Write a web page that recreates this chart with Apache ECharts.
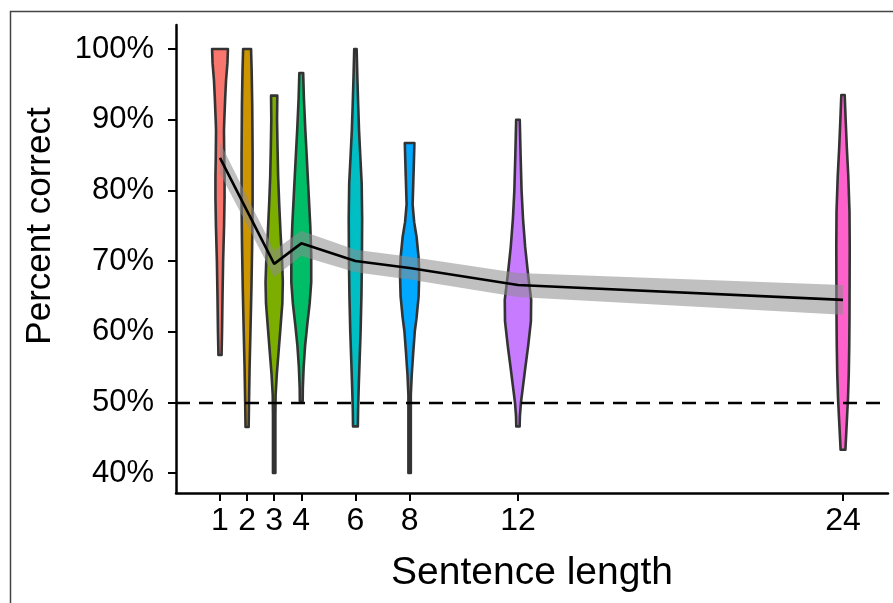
<!DOCTYPE html>
<html>
<head>
<meta charset="utf-8">
<script src="https://cdn.jsdelivr.net/npm/echarts@6/dist/echarts.min.js"></script>
<style>html,body{margin:0;padding:0;background:#fff}#c{width:893px;height:603px}</style>
</head>
<body>
<div id="c"></div>
<script>
// ---- data ----
const lengths = [1, 2, 3, 4, 6, 8, 12, 24];
const xTicks = [1, 2, 3, 4, 6, 8, 12, 24];
const yTicks = [40, 50, 60, 70, 80, 90, 100];
const chanceLevel = 50;
// violin profiles: [percent correct, density (half-width)]
const violinLen1 = [[100,6.6],[98,6.2],[95.5,5],[93,4.3],[90,3.6],[88.5,3.3],[85,3.5],[82,3.8],[79,3.8],[75,3.4],[70,2.6],[65,2.1],[60,1.7],[56.7,1.3]];
const violinLen2 = [[100,3.3],[97,3.8],[92,4.3],[85,4.6],[78,4.6],[72,4.2],[66,3.6],[60,2.8],[55,2.1],[50,1.6],[46.5,1.3]];
const violinLen3 = [[93.4,2.6],[90,2.4],[86,2.8],[82,3.3],[78,4.2],[74,5.3],[70,6.6],[67,7.2],[64,6.8],[60,5],[57,3.6],[54,2.2],[51,1.2],[48,1],[40,1]];
const violinLen4 = [[96.6,1.6],[93,2.2],[88.5,3.4],[84,4.8],[79,6.3],[75,7.5],[71,8.3],[67,8.3],[64,7],[61,5],[58,3.2],[55,2],[52,1.3],[50.2,1.2]];
const violinLen6 = [[100,1],[96,1.6],[92,2.3],[88.5,3],[85,4],[81,5.2],[76,5.6],[70,5.4],[65,5],[60,4.3],[56,3.5],[52,2.7],[49,2.2],[46.6,2]];
const violinLen8 = [[86.7,4],[83,3.4],[78,2.5],[75.5,3.8],[73.4,5.8],[70.5,7.5],[68,8],[65,7.5],[62,5.8],[60,4.3],[57,3],[54,1.8],[51,1],[40,1]];
const violinLen12 = [[90,1.5],[85,2.2],[80,3],[76,4.2],[72,6],[68,8.5],[64.5,11],[61.5,10.8],[58,8.5],[55,6.2],[52,4],[50,2.5],[48,1.6],[46.6,1.4]];
const violinLen24 = [[93.5,1.4],[90,2.2],[86,3.2],[82,4.4],[77,5.4],[72,5.6],[67,5.5],[62,5.4],[58,5.2],[54,4.8],[50.8,4.2],[48,3.4],[46,2.8],[43.3,2]];
// smoothed mean and confidence band
const meanCorrect = [84.6, 77.1, 69.6, 72.5, 70.0, 69.0, 66.6, 64.5];
const ciHigh = [86.8, 79.1, 71.5, 74.3, 71.6, 70.6, 68.3, 66.6];
const ciLow  = [82.4, 75.1, 67.7, 70.7, 68.4, 67.4, 64.9, 62.4];

// ---- styles ----
const violins = [violinLen1, violinLen2, violinLen3, violinLen4, violinLen6, violinLen8, violinLen12, violinLen24];
const colors = ['#F8766D', '#CD9600', '#7CAE00', '#00BE67', '#00BFC4', '#00A9FF', '#C77CFF', '#FF61CC'];
const DENS = 1.2 / 27.09;
const FONT = 'Liberation Sans, Arial, sans-serif';

const chart = echarts.init(document.getElementById('c'), null, {renderer: 'canvas'});
chart.setOption({
  animation: false,
  backgroundColor: '#fff',
  grid: {left: 176, right: 5, top: 25, bottom: 110, containLabel: false},
  xAxis: {
    type: 'value', min: -0.6244, max: 25.661,
    name: 'Sentence length', nameLocation: 'middle', nameGap: 61,
    nameTextStyle: {fontFamily: FONT, fontSize: 39, color: '#000'},
    axisLine: {show: true, onZero: false, lineStyle: {color: '#000', width: 2.5}},
    axisTick: {show: true, length: 8, lineStyle: {color: '#000', width: 2}, customValues: xTicks},
    axisLabel: {fontFamily: FONT, fontSize: 32, color: '#000', margin: 12, customValues: xTicks},
    splitLine: {show: false}
  },
  yAxis: {
    type: 'value', min: 37.17, max: 103.4,
    axisLine: {show: true, onZero: false, lineStyle: {color: '#000', width: 2.5}},
    axisTick: {show: true, length: 8, lineStyle: {color: '#000', width: 2}, customValues: yTicks},
    axisLabel: {fontFamily: FONT, fontSize: 31, color: '#000', margin: 22, customValues: yTicks,
      formatter: v => v + '%'},
    splitLine: {show: false}
  },
  graphic: [
    {type: 'polyline', silent: true, z: 100,
     shape: {points: [[10.5, 603], [10.5, 11.5], [893, 11.5]]},
     style: {stroke: '#444', lineWidth: 1.5, fill: null}},
    {type: 'text', x: 40, y: 226, rotation: Math.PI / 2, z: 100,
     style: {text: 'Percent correct', font: '35px ' + FONT, fill: '#000', align: 'center', verticalAlign: 'middle'}}
  ],
  series: [
    {
      type: 'custom', name: 'violins', clip: false, z: 2,
      data: lengths.map((x, i) => [x, 70, i]),
      encode: {x: 0, y: 1},
      renderItem: function (params, api) {
        const x = api.value(0);
        const prof = violins[api.value(2)];
        const right = prof.map(p => api.coord([x + p[1] * DENS, p[0]]));
        const left = prof.slice().reverse().map(p => api.coord([x - p[1] * DENS, p[0]]));
        return {type: 'polygon', shape: {points: right.concat(left)},
          style: {fill: colors[api.value(2)], stroke: '#333', lineWidth: 2.6, lineJoin: 'round'}};
      }
    },
    {
      type: 'custom', name: 'band', clip: false, z: 3,
      data: [[lengths[0], meanCorrect[0]]],
      encode: {x: 0, y: 1},
      renderItem: function (params, api) {
        const up = lengths.map((x, i) => api.coord([x, ciHigh[i]]));
        const lo = lengths.map((x, i) => api.coord([x, ciLow[i]])).reverse();
        return {type: 'polygon', shape: {points: up.concat(lo)},
          style: {fill: 'rgba(140,140,140,0.55)', stroke: null}};
      }
    },
    {
      type: 'line', name: 'mean', z: 4, symbol: 'none',
      data: lengths.map((x, i) => [x, meanCorrect[i]]),
      lineStyle: {color: '#000', width: 2.6},
      markLine: {
        silent: true, symbol: 'none', label: {show: false},
        lineStyle: {color: '#000', width: 2.4, type: [14, 9]},
        data: [{yAxis: chanceLevel}]
      }
    }
  ]
});
</script>
</body>
</html>
